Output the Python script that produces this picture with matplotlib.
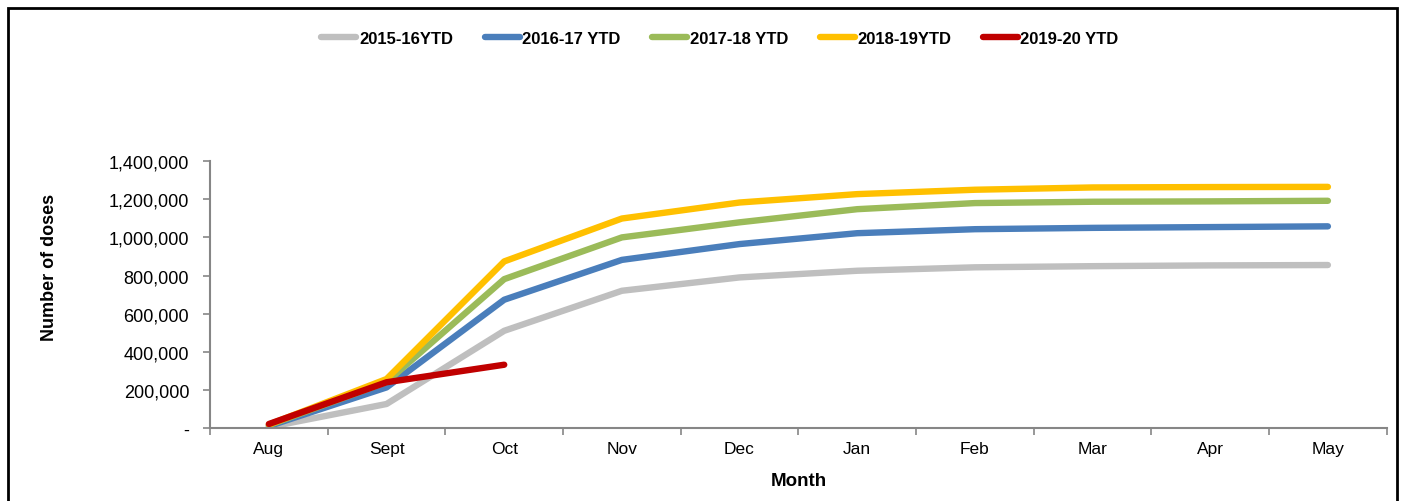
import numpy as np
from matplotlib import pyplot as plt
from matplotlib.ticker import FuncFormatter
from matplotlib.patches import Rectangle

plt.rcParams['font.family'] = ['Liberation Sans Narrow', 'Liberation Sans', 'DejaVu Sans']

months = ['Aug', 'Sept', 'Oct', 'Nov', 'Dec', 'Jan', 'Feb', 'Mar', 'Apr', 'May']
labels = ['2015-16YTD', '2016-17 YTD', '2017-18 YTD', '2018-19YTD', '2019-20 YTD']
colors = ['#BFBFBF', '#4A7EBB', '#9BBB59', '#FFC000', '#C00000']

s2015 = [5000, 126000, 510000, 720000, 790000, 825000, 843000, 849000, 853000, 855000]
s2016 = [10000, 213000, 673000, 882000, 965000, 1022000, 1043000, 1050000, 1054000, 1058000]
s2017 = [15000, 241000, 781000, 1000000, 1079000, 1148000, 1180000, 1187000, 1189000, 1192000]
s2018 = [18000, 257000, 874000, 1099000, 1183000, 1227000, 1250000, 1262000, 1264000, 1265000]
s2019 = [21000, 240000, 332000]

series = [s2015, s2016, s2017, s2018, s2019]

fig = plt.figure(figsize=(14.05, 5.02), dpi=100)
ax = fig.add_axes([0.1495, 0.1454, 0.8375, 0.5316])

x = np.arange(len(months))
for vals, lab, col in zip(series, labels, colors):
    ax.plot(x[:len(vals)], vals, color=col, lw=4.6, label=lab,
            solid_capstyle='round', solid_joinstyle='round')

ax.set_xlim(-0.5, len(months) - 0.5)
ax.set_ylim(0, 1400000)
ax.set_yticks(np.arange(0, 1400001, 200000))
ax.yaxis.set_major_formatter(FuncFormatter(lambda v, p: '-' if v == 0 else f'{int(v):,}'))

# category labels centred, tick marks on the boundaries
ax.set_xticks(x)
ax.set_xticklabels(months)
ax.set_xticks(np.arange(-0.5, len(months)), minor=True)
ax.tick_params(axis='x', which='major', length=0, pad=9, labelsize=12.5)
ax.tick_params(axis='x', which='minor', length=5, color='#868686', width=1.2)
ax.tick_params(axis='y', length=5, color='#868686', width=1.2, labelsize=13, pad=10)

for side in ['top', 'right']:
    ax.spines[side].set_visible(False)
for side in ['left', 'bottom']:
    ax.spines[side].set_color('#868686')
    ax.spines[side].set_linewidth(1.5)

ax.set_xlabel('Month', fontsize=13.5, fontweight='bold', labelpad=12)
ax.set_ylabel('Number of doses', fontsize=13, fontweight='bold')
ax.yaxis.set_label_coords(-0.129, 0.607)

fig.legend(loc='center', bbox_to_anchor=(0.5125, 0.922), ncol=5, frameon=False,
           prop={'weight': 'bold', 'size': 12}, handlelength=2.1,
           handletextpad=0.15, columnspacing=1.9)

fig.patches.append(Rectangle((8 / 1405, -0.05), 1389 / 1405, 1.05 - 9 / 502,
                             transform=fig.transFigure, fill=False,
                             edgecolor='black', lw=2))

fig.savefig('out.png', dpi=100)
